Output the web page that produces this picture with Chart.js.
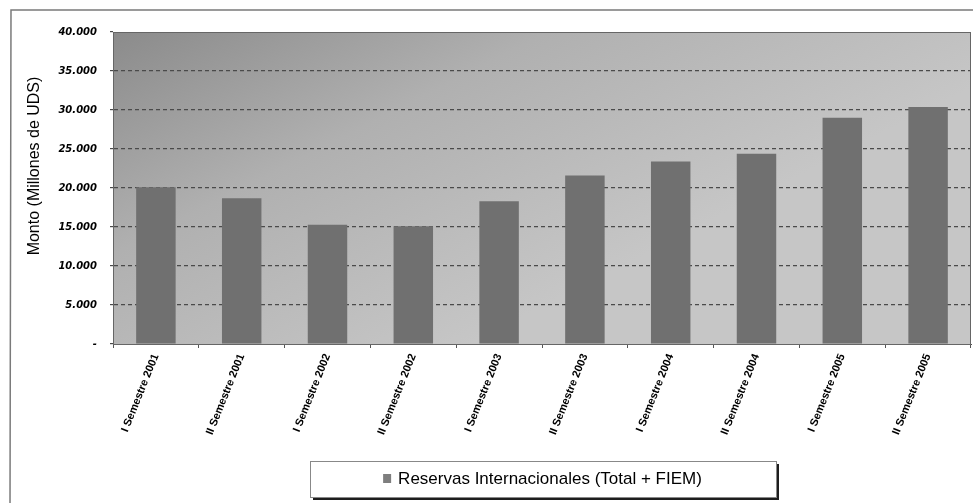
<!DOCTYPE html>
<html>
<head>
<meta charset="utf-8">
<script src="https://cdn.jsdelivr.net/npm/chart.js@4.4.1/dist/chart.umd.min.js"></script>
<style>
  html, body { margin: 0; padding: 0; background: #ffffff; }
  #wrap { width: 973px; height: 503px; position: relative; }
</style>
</head>
<body>
<div id="wrap"><canvas id="c" width="973" height="503"></canvas></div>
<script>
// Semesters on the category axis
const categories = [
  'I Semestre 2001', 'II Semestre 2001',
  'I Semestre 2002', 'II Semestre 2002',
  'I Semestre 2003', 'II Semestre 2003',
  'I Semestre 2004', 'II Semestre 2004',
  'I Semestre 2005', 'II Semestre 2005'
];

// Reserves, millions of USD
const reservas = [20100, 18700, 15300, 15100, 18300, 21600, 23400, 24400, 29000, 30400];

const seriesLabel = 'Reservas Internacionales (Total + FIEM)';
const yTitle = 'Monto (Millones de UDS)';
const yMin = 0, yMax = 40000, yStep = 5000;

function fmtMiles(v) {
  if (v === 0) return '-';
  return String(v).replace(/\B(?=(\d{3})+(?!\d))/g, '.');
}

// Gradient plot background, frames, axis title and legend box
const decor = {
  id: 'decor',
  beforeDraw(chart) {
    const { ctx, chartArea: a } = chart;
    ctx.save();
    const g = ctx.createLinearGradient(a.left, a.top, a.left + 200, a.bottom + 80);
    g.addColorStop(0, '#8b8b8b');
    g.addColorStop(0.45, '#b0b0b0');
    g.addColorStop(1, '#c6c6c6');
    ctx.fillStyle = g;
    ctx.fillRect(a.left, a.top, a.right - a.left, a.bottom - a.top);
    ctx.restore();
  },
  afterDatasetsDraw(chart) {
    const { ctx, chartArea: a } = chart;
    ctx.save();
    ctx.strokeStyle = '#666666';
    ctx.lineWidth = 1;
    ctx.strokeRect(a.left + 0.5, a.top + 0.5, a.right - a.left - 1, a.bottom - a.top);
    ctx.restore();
  },
  afterDraw(chart) {
    const { ctx } = chart;
    ctx.save();
    // outer page frame
    ctx.strokeStyle = '#7a7a7a';
    ctx.lineWidth = 1.5;
    ctx.beginPath();
    ctx.moveTo(10, 503);
    ctx.lineTo(11, 10);
    ctx.lineTo(973, 10);
    ctx.stroke();

    // y axis title
    ctx.fillStyle = '#000000';
    ctx.font = '16px "Liberation Sans", Arial, sans-serif';
    ctx.textAlign = 'center';
    ctx.textBaseline = 'middle';
    ctx.translate(35, 166);
    ctx.rotate(-Math.PI / 2);
    ctx.fillText(yTitle, 0, 0);
    ctx.setTransform(1, 0, 0, 1, 0, 0);

    // legend box with shadow
    const bx = 310, by = 461, bw = 466, bh = 36;
    ctx.fillStyle = '#1e1e1e';
    ctx.fillRect(bx + 3, by + 3, bw, bh);
    ctx.fillStyle = '#ffffff';
    ctx.fillRect(bx, by, bw, bh);
    ctx.strokeStyle = '#888888';
    ctx.lineWidth = 1;
    ctx.strokeRect(bx + 0.5, by + 0.5, bw, bh);

    const ds = chart.data.datasets[0];
    ctx.font = '17px "Liberation Sans", Arial, sans-serif';
    ctx.textBaseline = 'middle';
    ctx.textAlign = 'left';
    const tw = ctx.measureText(ds.label).width;
    const total = 9 + 7 + tw;
    const sx = bx + bw / 2 - total / 2;
    const cy = by + bh / 2;
    ctx.fillStyle = '#7e7e7e';
    ctx.fillRect(sx, cy - 5, 8, 9);
    ctx.fillStyle = '#000000';
    ctx.fillText(ds.label, sx + 15, cy);
    ctx.restore();
  }
};

new Chart(document.getElementById('c'), {
  type: 'bar',
  data: {
    labels: categories,
    datasets: [{
      label: seriesLabel,
      data: reservas,
      backgroundColor: '#707070',
      borderWidth: 0,
      categoryPercentage: 1,
      barPercentage: 0.46
    }]
  },
  options: {
    responsive: false,
    animation: false,
    devicePixelRatio: 1,
    layout: { padding: { left: 0, top: 32, right: 2, bottom: 0 } },
    plugins: {
      legend: { display: false },
      tooltip: { enabled: false }
    },
    scales: {
      x: {
        offset: true,
        afterFit(s) { s.height = 159; },
        grid: {
          offset: true,
          drawOnChartArea: false,
          drawTicks: true,
          tickLength: 4,
          color: '#555555'
        },
        border: { display: true, color: '#555555', width: 1 },
        ticks: {
          minRotation: 68,
          maxRotation: 68,
          autoSkip: false,
          padding: 4,
          color: '#000000',
          font: { family: '"Liberation Sans", Arial, sans-serif', size: 11, weight: 'bold' }
        }
      },
      y: {
        min: yMin,
        max: yMax,
        afterFit(s) { s.width = 113; },
        grid: {
          color(ctx) {
            const v = ctx.tick && ctx.tick.value;
            return (v === yMin || v === yMax) ? 'rgba(0,0,0,0)' : '#4a4a4a';
          },
          lineWidth: 1.2,
          tickLength: 3,
          drawTicks: true,
          tickColor: '#4a4a4a'
        },
        border: { display: true, color: '#555555', dash: [4, 3] },
        ticks: {
          stepSize: yStep,
          padding: 13,
          color: '#000000',
          font: { family: '"DejaVu Sans", sans-serif', size: 10, weight: 'bold', style: 'italic' },
          callback: (v) => fmtMiles(v)
        }
      }
    }
  },
  plugins: [decor]
});
</script>
</body>
</html>
